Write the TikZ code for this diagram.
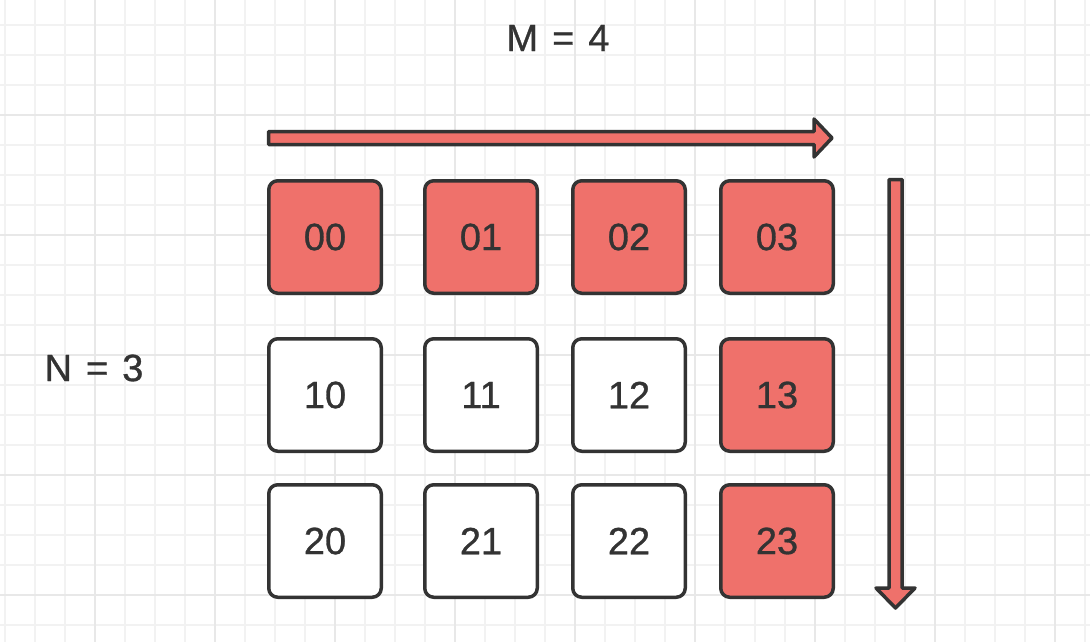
\documentclass[tikz,border=0pt]{standalone}
\usepackage{fontspec}
\setmainfont{Liberation Sans}[FakeBold=0.8]
\usepackage{xcolor}
\usetikzlibrary{positioning}

\definecolor{cellred}{RGB}{239,113,107}
\definecolor{inkgray}{RGB}{51,51,51}
\definecolor{gridminor}{RGB}{242,242,242}
\definecolor{gridmajor}{RGB}{232,232,232}

\tikzset{
    cell/.style={draw=inkgray, line width=3.5pt, rounded corners=9pt, fill=white,
        minimum width=112.5pt, minimum height=112.5pt, inner sep=0pt,
        text=inkgray, font=\fontsize{38}{44}\selectfont},
    hot/.style={cell, fill=cellred},
    label/.style={text=inkgray, font=\fontsize{38}{44}\selectfont},
    blockarrow/.style={draw=inkgray, fill=cellred, line width=3.5pt, line join=round}
}

\begin{document}
\begin{tikzpicture}[x=1pt, y=-1pt]
    \useasboundingbox (0,0) rectangle (1090,642);
    \fill[white] (0,0) rectangle (1090,642);

    % Background grid
    \foreach \gx in {5,35,...,1085} {
        \draw[gridminor, line width=1.6pt] (\gx,0) -- (\gx,642);
    }
    \foreach \gy in {25,55,...,625} {
        \draw[gridminor, line width=1.6pt] (0,\gy) -- (1090,\gy);
    }
    \foreach \gx in {95,215,...,1085} {
        \draw[gridmajor, line width=1.6pt] (\gx,0) -- (\gx,642);
    }
    \foreach \gy in {115,235,...,595} {
        \draw[gridmajor, line width=1.6pt] (0,\gy) -- (1090,\gy);
    }

    % Row 0
    \node[hot] (c00) at (325,237) {00};
    \node[hot] (c01) at (481,237) {01};
    \node[hot] (c02) at (629,237) {02};
    \node[hot] (c03) at (777,237) {03};

    % Row 1
    \node[cell] (c10) at (325,395) {10};
    \node[cell] (c11) at (481,395) {11};
    \node[cell] (c12) at (629,395) {12};
    \node[hot]  (c13) at (777,395) {13};

    % Row 2
    \node[cell] (c20) at (325,541) {20};
    \node[cell] (c21) at (481,541) {21};
    \node[cell] (c22) at (629,541) {22};
    \node[hot]  (c23) at (777,541) {23};

    % Sizes
    \node[label] (msize) at (558,38) {M\hspace{14pt}=\hspace{14pt}4};
    \node[label] (nsize) at (94,368) {N\hspace{14pt}=\hspace{14pt}3};

    % Direction arrows
    \draw[blockarrow] (268.5,131.5) -- (814,131.5) -- (814,119) -- (832,138)
        -- (814,157) -- (814,144.5) -- (268.5,144.5) -- cycle;
    \draw[blockarrow] (889,179.5) -- (902,179.5) -- (902,588) -- (915,588)
        -- (895.5,608) -- (876,588) -- (889,588) -- cycle;
\end{tikzpicture}
\end{document}
